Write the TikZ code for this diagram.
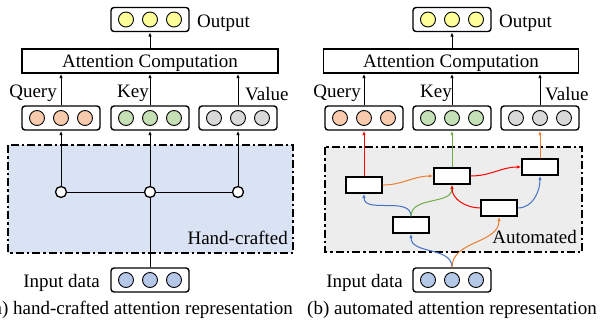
\documentclass[tikz,border=0pt]{standalone}
\usepackage{fontspec}
\setmainfont{Liberation Serif}
\usetikzlibrary{arrows.meta}

\definecolor{cOut}{HTML}{FFFF99}
\definecolor{cQry}{HTML}{F8CBAD}
\definecolor{cKey}{HTML}{C5E0B4}
\definecolor{cVal}{HTML}{D9D9D9}
\definecolor{cInp}{HTML}{B4C7E7}
\definecolor{cHand}{HTML}{DAE3F3}
\definecolor{cAuto}{HTML}{EDEDED}
\definecolor{cRed}{HTML}{FF0000}
\definecolor{cOrange}{HTML}{ED7D31}
\definecolor{cGreen}{HTML}{70AD47}
\definecolor{cBlue}{HTML}{4472C4}

% three circles inside a vector box: #1 box name, #2 fill colour
\newcommand\cellrow[2]{%
  \foreach \k/\d in {1/-24,2/0,3/24}{%
    \node[cell, fill=#2] (#1\k) at ([xshift=\d pt]#1.center) {};%
  }%
}

\begin{document}
\begin{tikzpicture}[x=1pt, y=-1pt,
  every node/.style={font=\fontsize{19}{22}\selectfont},
  vbox/.style={draw, line width=1.4pt, rounded corners=3pt, minimum width=78pt,
    minimum height=24pt, inner sep=0pt},
  cell/.style={circle, draw, line width=0.9pt, minimum size=15pt, inner sep=0pt},
  attbox/.style={draw, line width=1.4pt, minimum width=256pt, minimum height=24pt,
    inner sep=0pt, text height=13pt, text depth=0pt},
  lbl/.style={inner sep=0pt},
  region/.style={line width=1.8pt, dash pattern=on 8pt off 3pt on 2.5pt off 3pt},
  junc/.style={circle, draw, fill=white, line width=1.3pt, minimum size=11pt, inner sep=0pt},
  op/.style={draw, fill=white, line width=1.4pt, minimum width=36pt,
    minimum height=16pt, inner sep=0pt},
  link/.style={line width=0.9pt, -{Latex[length=4.5pt,width=3.5pt]}},
  wire/.style={line width=1pt},
  flow/.style={line width=1pt, -{Latex[length=4.5pt,width=3.5pt]}},
]
\fill[white] (0,0) rectangle (608,321);
\useasboundingbox (0,0) rectangle (608,321);

% ---------------- (a) hand-crafted ----------------
\draw[region, fill=cHand] (8,145) rectangle (293,253);

\node[vbox] (outL) at (150,19.5) {};
\cellrow{outL}{cOut}
\node[lbl, anchor=base west] (outLtxt) at (197,28) {Output};

\node[attbox] (attL) at (150,61) {Attention Computation};

\node[vbox] (qL) at (61,118) {};
\cellrow{qL}{cQry}
\node[vbox] (kL) at (150,118) {};
\cellrow{kL}{cKey}
\node[vbox] (vL) at (238,118) {};
\cellrow{vL}{cVal}
\node[lbl, anchor=base east] (qLtxt) at (57,97) {Query};
\node[lbl, anchor=base west] (kLtxt) at (117,97) {Key};
\node[lbl, anchor=base west] (vLtxt) at (245,100) {Value};

\node[junc] (j1) at (61,192) {};
\node[junc] (j2) at (150,192) {};
\node[junc] (j3) at (238,192) {};

\node[vbox] (inL) at (150,280) {};
\cellrow{inL}{cInp}
\node[lbl, anchor=base east] (inLtxt) at (100,287) {Input data};

\node[lbl, anchor=base east] (hand) at (288,244) {Hand-crafted};

\draw[link] (attL.north) -- (outL.south);
\draw[link] (qL.north) -- (qL.north |- attL.south);
\draw[link] (kL.north) -- (attL.south);
\draw[link] (vL.north) -- (vL.north |- attL.south);
\draw[link] (j1) -- (qL.south);
\draw[link] (j2) -- (kL.south);
\draw[link] (j3) -- (vL.south);
\draw[wire] (j1) -- (j2);
\draw[wire] (j2) -- (j3);
\draw[wire] (inL.north) -- (j2);

\node[lbl, anchor=base east] (capA) at (293,314) {(a) hand-crafted attention representation};

% ---------------- (b) automated ----------------
\draw[region, fill=cAuto] (325,147) rectangle (582,252);

\node[vbox] (outR) at (452,19.5) {};
\cellrow{outR}{cOut}
\node[lbl, anchor=base west] (outRtxt) at (499,28) {Output};

\node[attbox, minimum width=255pt] (attR) at (451,61) {Attention Computation};

\node[vbox] (qR) at (364,118) {};
\cellrow{qR}{cQry}
\node[vbox] (kR) at (452,118) {};
\cellrow{kR}{cKey}
\node[vbox] (vR) at (540,118) {};
\cellrow{vR}{cVal}
\node[lbl, anchor=base east] (qRtxt) at (361,97) {Query};
\node[lbl, anchor=base west] (kRtxt) at (420,97) {Key};
\node[lbl, anchor=base west] (vRtxt) at (545,100) {Value};

\node[op] (A) at (364,185) {};
\node[op] (B) at (452,176) {};
\node[op] (C) at (540,167) {};
\node[op] (D) at (499,208) {};
\node[op] (E) at (411,225) {};

\node[vbox] (inR) at (452,280) {};
\cellrow{inR}{cInp}
\node[lbl, anchor=base east] (inRtxt) at (403,287) {Input data};

\node[lbl, anchor=base east] (auto) at (577,243) {Automated};

\draw[link] (attR.north -| outR) -- (outR.south);
\draw[link] (qR.north) -- (qR.north |- attR.south);
\draw[link] (kR.north) -- (kR.north |- attR.south);
\draw[link] (vR.north) -- (vR.north |- attR.south);

\draw[flow, cRed] (A.north) -- (qR.south);
\draw[flow, cGreen] (B.north) -- (kR.south);
\draw[flow, cOrange] (C.north) -- (vR.south);
\draw[flow, cOrange] (A.east) to[out=0, in=180] (B.west);
\draw[flow, cRed] (B.east) to[out=0, in=180] (C.west);
\draw[flow, cBlue] (E.north) to[out=90, in=-90] (A.south);
\draw[flow, cGreen] (E.north) to[out=90, in=-90] (B.south);
\draw[flow, cRed] (D.west) to[out=180, in=-90] (B.south);
\draw[flow, cBlue] (D.east) to[out=0, in=-90] (C.south);
\draw[flow, cBlue] (inR.north) to[out=90, in=-90] (E.south);
\draw[flow, cOrange] (inR.north) to[out=90, in=-90] (D.south);

\node[lbl, anchor=base west] (capB) at (307,314) {(b) automated attention representation};
\end{tikzpicture}
\end{document}
